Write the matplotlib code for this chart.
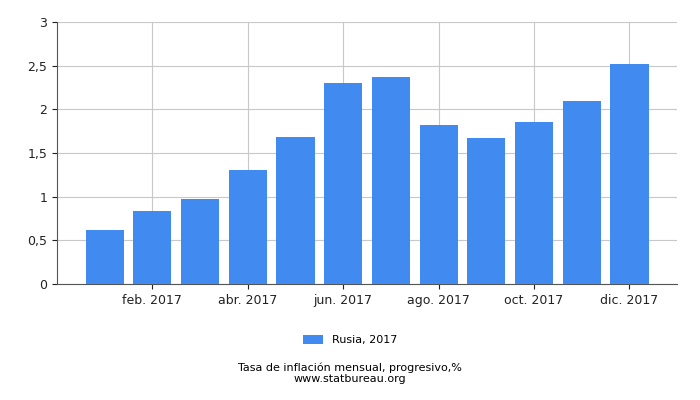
import matplotlib
matplotlib.use("Agg")
import matplotlib.pyplot as plt
from matplotlib.ticker import FuncFormatter

months = ["ene. 2017","feb. 2017","mar. 2017","abr. 2017","may. 2017","jun. 2017",
          "jul. 2017","ago. 2017","sep. 2017","oct. 2017","nov. 2017","dic. 2017"]
values = [0.62, 0.84, 0.97, 1.30, 1.68, 2.30, 2.37, 1.82, 1.67, 1.86, 2.09, 2.52]
series_label = "Rusia, 2017"
yticks = [0, 0.5, 1, 1.5, 2, 2.5, 3]

fig = plt.figure(figsize=(7, 4), dpi=100)
ax = fig.add_axes([0.0814, 0.29, 0.886, 0.655])
x = list(range(len(months)))
ax.bar(x, values, width=0.8, color="#418bf0", label=series_label, zorder=3)
ax.set_xlim(-1, 12)
ax.set_ylim(0, 3)
ax.set_yticks(yticks)
ax.yaxis.set_major_formatter(FuncFormatter(lambda v, p: f"{v:g}".replace(".", ",")))
ax.set_xticks(x[1::2])
ax.set_xticklabels(months[1::2])
ax.grid(True, color="#c8c8c8", linewidth=0.8, zorder=0)
for s in ["top", "right"]:
    ax.spines[s].set_visible(False)
ax.spines["left"].set_color("#555555")
ax.spines["bottom"].set_color("#555555")
ax.tick_params(labelsize=9, colors="#222222")
fig.legend(loc="center", bbox_to_anchor=(0.5, 0.15), frameon=False, fontsize=8,
           handlelength=1.8, handleheight=0.9)
fig.text(0.5, 0.072, "Tasa de inflación mensual, progresivo,%", ha="center", fontsize=8)
fig.text(0.5, 0.045, "www.statbureau.org", ha="center", fontsize=8)
fig.savefig("out.png", dpi=100)
